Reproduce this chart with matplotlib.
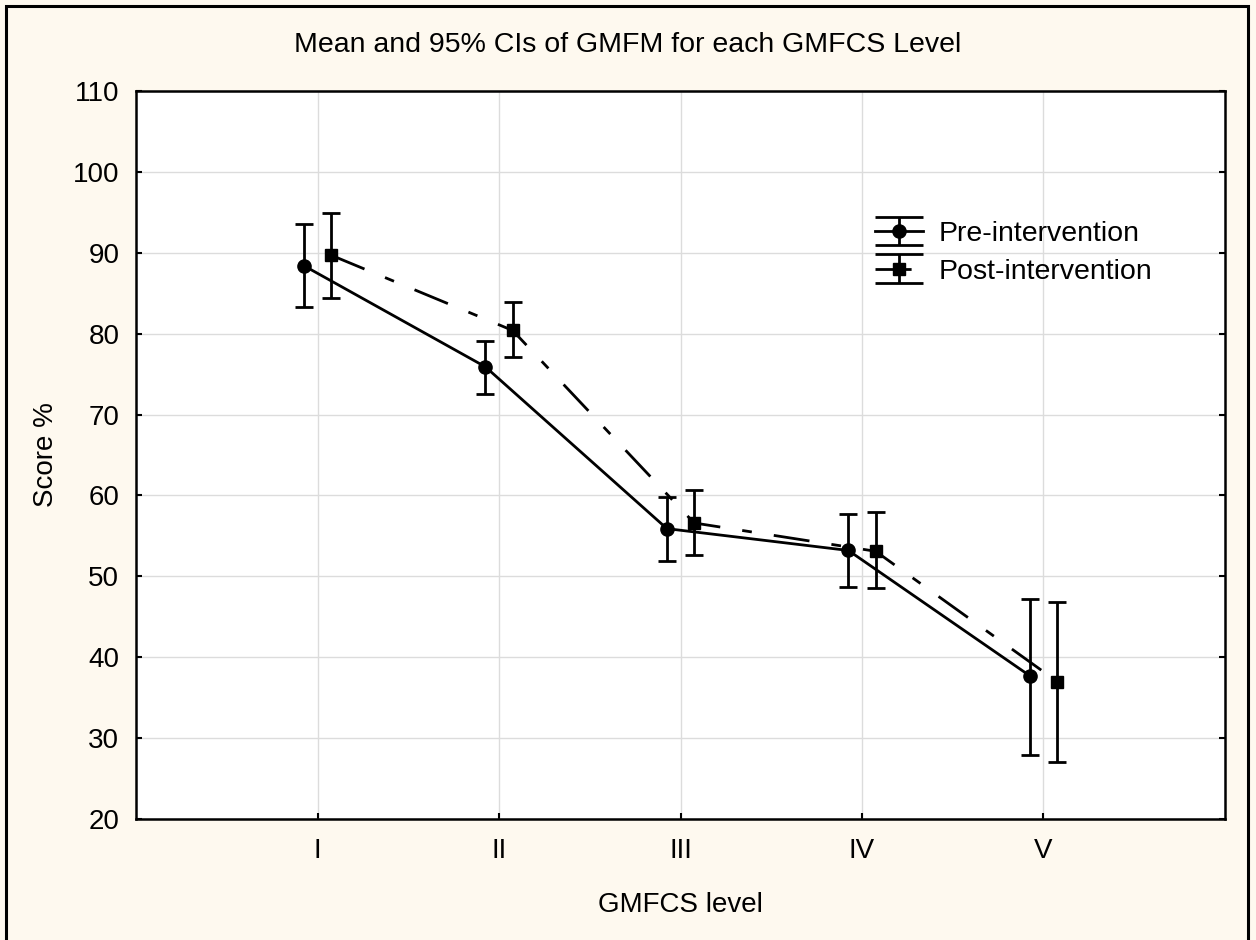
import matplotlib
matplotlib.use("Agg")
import matplotlib.pyplot as plt
from matplotlib.patches import Rectangle
from matplotlib.legend_handler import HandlerErrorbar
from matplotlib.lines import Line2D

plt.rcParams['font.family'] = ['Liberation Sans', 'DejaVu Sans']

# GMFCS levels and GMFM scores (mean with 95% CI bounds)
levels = ["I", "II", "III", "IV", "V"]
pre_mean = [88.4, 75.9, 55.9, 53.2, 37.7]
pre_lo = [83.3, 72.5, 51.9, 48.65, 27.9]
pre_hi = [93.6, 79.05, 59.8, 57.75, 47.2]
post_mean = [89.7, 80.4, 56.6, 53.1, 37.0]
post_lo = [84.4, 77.1, 52.7, 48.55, 27.1]
post_hi = [94.95, 83.9, 60.7, 57.9, 46.8]
yticks = [20, 30, 40, 50, 60, 70, 80, 90, 100, 110]

bg = "#fef9ef"
fig = plt.figure(figsize=(12.56, 9.4), dpi=100, facecolor=bg)
ax = fig.add_axes([0.1083, 0.1287, 0.8670, 0.7745])
ax.set_facecolor("white")

pos = list(range(1, len(levels) + 1))
shift = 0.075
x_pre = [p - shift for p in pos]
x_post = [p + shift for p in pos]

pre_err = [[m - lo for m, lo in zip(pre_mean, pre_lo)],
           [hi - m for m, hi in zip(pre_mean, pre_hi)]]
post_err = [[m - lo for m, lo in zip(post_mean, post_lo)],
            [hi - m for m, hi in zip(post_mean, post_hi)]]

lw = 2.0
eb_pre = ax.errorbar(x_pre, pre_mean, yerr=pre_err, color="black", lw=lw,
                     marker="o", ms=9.5, capsize=6.5, capthick=lw,
                     elinewidth=lw, label="Pre-intervention", zorder=3)
eb_post = ax.errorbar(x_post, post_mean, yerr=post_err, color="black", lw=lw,
                      marker="s", ms=8.5, capsize=6.5, capthick=lw,
                      elinewidth=lw, label="Post-intervention", zorder=3)
eb_post.lines[0].set_dashes([13, 8, 3.5, 8])

ax.set_xlim(0, 6)
ax.set_ylim(20, 110)
ax.set_xticks(pos)
ax.set_xticklabels(levels)
ax.set_yticks(yticks)
ax.grid(True, color="#dcdcdc", lw=1.0, zorder=0)
ax.set_axisbelow(True)
ax.tick_params(axis="both", direction="in", length=4, width=1.5,
               labelsize=20, color="black")
ax.tick_params(axis="y", right=True, pad=12)
ax.tick_params(axis="x", pad=14)
for s in ax.spines.values():
    s.set_linewidth(1.8)

ax.set_xlabel("GMFCS level", fontsize=20, va="center")
ax.xaxis.set_label_coords(0.5, -0.118)
ax.set_ylabel("Score %", fontsize=20, va="center")
ax.yaxis.set_label_coords(-0.0826, 0.5)

fig.text(0.5, 1 - 45.5 / 940, "Mean and 95% CIs of GMFM for each GMFCS Level",
         ha="center", va="center", fontsize=20.5)


class WideCapHandler(HandlerErrorbar):
    def create_artists(self, legend, orig_handle, xdescent, ydescent,
                       width, height, fontsize, trans):
        artists = super().create_artists(legend, orig_handle, xdescent,
                                         ydescent, width, height, fontsize,
                                         trans)
        for a in artists:
            if isinstance(a, Line2D) and a.get_marker() == "_":
                a.set_markersize(width)
        return artists


leg = ax.legend(handles=[eb_pre, eb_post], loc="upper left",
                bbox_to_anchor=(0.655, 0.857), frameon=False, fontsize=20.5,
                handlelength=1.7, handletextpad=0.55, labelspacing=0.42,
                handler_map={type(eb_pre): WideCapHandler(yerr_size=0.5)})

# outer frame around the whole figure
fig.patches.append(Rectangle((5.5 / 1256, -0.05), (1248 - 5.5) / 1256,
                             1.05 - 5.5 / 940, transform=fig.transFigure,
                             fill=False, ec="black", lw=2.2))

fig.savefig("out.png", dpi=100, facecolor=bg)
